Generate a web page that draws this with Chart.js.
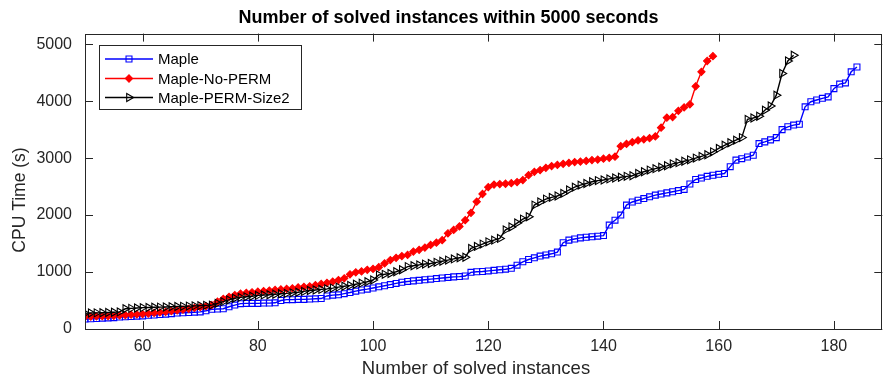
<!DOCTYPE html>
<html>
<head>
<meta charset="utf-8">
<title>Number of solved instances within 5000 seconds</title>
<script src="https://cdn.jsdelivr.net/npm/chart.js@4.4.1/dist/chart.umd.min.js"></script>
<style>
  html, body { margin: 0; padding: 0; background: #fff; }
  canvas { display: block; }
</style>
</head>
<body>
<canvas id="solvedChart" width="888" height="377"></canvas>
<script>
// instance count of the first point of every series
const firstInstance = 50;

// CPU time (s) per number of solved instances, starting at firstInstance
const maple = [
  175, 180, 185, 190, 195, 200, 210, 215, 220, 225,
  230, 240, 245, 255, 260, 270, 280, 285, 290, 295,
  300, 320, 345, 350, 355, 390, 420, 445, 450, 450,
  450, 455, 455, 460, 500, 515, 515, 520, 520, 525,
  530, 535, 580, 595, 600, 620, 640, 665, 685, 700,
  720, 740, 760, 780, 800, 820, 835, 845, 855, 865,
  875, 885, 895, 905, 915, 920, 930, 995, 1005, 1010,
  1020, 1030, 1040, 1050, 1065, 1120, 1180, 1220, 1250, 1280,
  1300, 1320, 1350, 1515, 1560, 1580, 1600, 1610, 1620, 1630,
  1640, 1825, 1910, 2000, 2175, 2230, 2260, 2290, 2320, 2350,
  2370, 2390, 2410, 2430, 2450, 2545, 2625, 2650, 2680, 2700,
  2715, 2730, 2850, 2965, 2990, 3020, 3050, 3255, 3285, 3320,
  3360, 3500, 3550, 3580, 3595, 3900, 3990, 4020, 4050, 4075,
  4220, 4300, 4320, 4515, 4600
];
const mapleNoPerm = [
  215, 218, 222, 225, 228, 232, 238, 245, 252, 258,
  263, 272, 282, 292, 302, 315, 325, 340, 355, 370,
  385, 400, 420, 480, 530, 565, 595, 620, 635, 645,
  655, 665, 675, 685, 695, 705, 715, 730, 740, 750,
  770, 790, 810, 830, 860, 890, 960, 995, 1010, 1040,
  1055, 1085, 1150, 1210, 1250, 1280, 1300, 1360, 1390, 1430,
  1475, 1515, 1560, 1680, 1740, 1800, 1910, 2040, 2235, 2370,
  2490, 2535, 2545, 2550, 2560, 2580, 2615, 2700, 2760, 2790,
  2830, 2860, 2880, 2900, 2915, 2930, 2940, 2950, 2965, 2975,
  2990, 3005, 3025, 3210, 3250, 3280, 3310, 3330, 3350, 3380,
  3535, 3710, 3720, 3830, 3890, 3945, 4260, 4515, 4705, 4790
];
const maplePermSize2 = [
  275, 280, 283, 286, 290, 295, 300, 355, 362, 368,
  375, 378, 381, 384, 387, 390, 394, 398, 402, 406,
  410, 415, 420, 450, 480, 510, 540, 555, 565, 575,
  590, 598, 602, 610, 618, 625, 635, 645, 660, 675,
  685, 695, 705, 718, 735, 750, 765, 785, 805, 830,
  860, 950, 960, 975, 1005, 1040, 1095, 1110, 1125, 1140,
  1150, 1170, 1190, 1210, 1230, 1250, 1260, 1415, 1450, 1490,
  1530, 1560, 1590, 1740, 1790, 1860, 1930, 1970, 2175, 2230,
  2280, 2310, 2335, 2380, 2440, 2490, 2525, 2555, 2585, 2605,
  2615, 2635, 2650, 2665, 2680, 2690, 2730, 2760, 2790, 2815,
  2840, 2865, 2900, 2920, 2945, 2970, 3000, 3030, 3060, 3110,
  3170, 3225, 3270, 3315, 3360, 3680, 3705, 3735, 3840, 3915,
  4105, 4485, 4705, 4805
];

const seriesNames = ["Maple", "Maple-No-PERM", "Maple-PERM-Size2"];
const xTicks = [60, 80, 100, 120, 140, 160, 180];
const yTicks = [0, 1000, 2000, 3000, 4000, 5000];

const FONT = "'Liberation Sans', Arial, Helvetica, sans-serif";
const AXIS_COLOR = "#262626";

function toPoints(values) {
  return values.map((v, i) => ({ x: firstInstance + i, y: v }));
}

const styles = [
  { color: "#0000ff", pointStyle: "rect", radius: 4.2, rotation: 0, fill: "rgba(0,0,0,0)" },
  { color: "#ff0000", pointStyle: "rectRot", radius: 3.6, rotation: 0, fill: "#ff0000" },
  { color: "#000000", pointStyle: "triangle", radius: 4.6, rotation: 90, fill: "rgba(0,0,0,0)" }
];

const seriesData = [maple, mapleNoPerm, maplePermSize2];

const datasets = seriesData.map((vals, k) => ({
  label: seriesNames[k],
  data: toPoints(vals),
  borderColor: styles[k].color,
  borderWidth: 1.4,
  pointStyle: styles[k].pointStyle,
  pointRadius: styles[k].radius,
  pointRotation: styles[k].rotation,
  pointBorderColor: styles[k].color,
  pointBackgroundColor: styles[k].fill,
  pointBorderWidth: 1.1,
  tension: 0,
  order: 3 - k
}));

// Matlab-style box with inward ticks on all four sides, plus the axis labels
const boxPlugin = {
  id: "boxPlugin",
  afterDatasetsDraw(chart) {
    const { ctx, chartArea: a, scales } = chart;
    ctx.save();
    ctx.strokeStyle = AXIS_COLOR;
    ctx.lineWidth = 1;
    ctx.beginPath();
    const tl = 8;
    scales.x.ticks.forEach(t => {
      const px = Math.round(scales.x.getPixelForValue(t.value)) + 0.5;
      ctx.moveTo(px, a.bottom); ctx.lineTo(px, a.bottom - tl);
      ctx.moveTo(px, a.top); ctx.lineTo(px, a.top + tl);
    });
    scales.y.ticks.forEach(t => {
      const py = Math.round(scales.y.getPixelForValue(t.value)) + 0.5;
      ctx.moveTo(a.left, py); ctx.lineTo(a.left + tl, py);
      ctx.moveTo(a.right, py); ctx.lineTo(a.right - tl, py);
    });
    ctx.stroke();
    ctx.strokeRect(Math.round(a.left) + 0.5, Math.round(a.top) + 0.5,
      Math.round(a.right - a.left) - 1, Math.round(a.bottom - a.top));

    ctx.fillStyle = AXIS_COLOR;
    ctx.textAlign = "center";
    ctx.textBaseline = "middle";
    ctx.font = "18.5px " + FONT;
    ctx.fillText("Number of solved instances", 476, 369);

    ctx.translate(20, 200);
    ctx.rotate(-Math.PI / 2);
    ctx.font = "17.5px " + FONT;
    ctx.fillText("CPU Time (s)", 0, 0);
    ctx.restore();
  }
};

// legend box drawn inside the plot, upper left
const legendPlugin = {
  id: "insideLegend",
  afterDraw(chart) {
    const { ctx } = chart;
    const bx = 99, by = 45, bw = 202, bh = 64;
    ctx.save();
    ctx.fillStyle = "#fff";
    ctx.fillRect(bx, by, bw, bh);
    ctx.strokeStyle = AXIS_COLOR;
    ctx.lineWidth = 1;
    ctx.strokeRect(bx + 0.5, by + 0.5, bw, bh);
    const rows = [59, 78.5, 97.5];
    ctx.font = "15px " + FONT;
    ctx.textBaseline = "middle";
    ctx.textAlign = "left";
    seriesNames.forEach((name, k) => {
      const s = styles[k];
      const y = rows[k];
      ctx.strokeStyle = s.color;
      ctx.lineWidth = 1.4;
      ctx.beginPath();
      ctx.moveTo(105, y); ctx.lineTo(153, y);
      ctx.stroke();
      ctx.fillStyle = s.fill;
      ctx.lineWidth = 1.1;
      Chart.helpers.drawPoint(ctx, {
        pointStyle: s.pointStyle, radius: s.radius, rotation: s.rotation, borderWidth: 1.1
      }, 129, y);
      ctx.fillStyle = "#000";
      ctx.fillText(name, 158, y + 1);
    });
    ctx.restore();
  }
};

new Chart(document.getElementById("solvedChart").getContext("2d"), {
  type: "line",
  data: { datasets: datasets },
  options: {
    responsive: false,
    animation: false,
    layout: { padding: { left: 10, right: 1, top: 0, bottom: 0 } },
    plugins: {
      legend: { display: false },
      tooltip: { enabled: false },
      title: {
        display: true,
        text: "Number of solved instances within 5000 seconds",
        color: "#000",
        font: { family: FONT, size: 18, weight: "bold", lineHeight: 1.2 },
        padding: { top: 7, bottom: 5 }
      }
    },
    scales: {
      x: {
        type: "linear",
        min: 50,
        max: 188.4,
        grid: { display: false, drawTicks: false },
        border: { display: false },
        afterBuildTicks: scale => { scale.ticks = xTicks.map(v => ({ value: v })); },
        afterFit: scale => { scale.height = 48; },
        ticks: {
          color: AXIS_COLOR,
          padding: 8,
          maxRotation: 0,
          font: { family: FONT, size: 16 },
          callback: v => String(v)
        },
        title: { display: false }
      },
      y: {
        min: 0,
        max: 5186,
        grid: { display: false, drawTicks: false },
        border: { display: false },
        afterBuildTicks: scale => { scale.ticks = yTicks.map(v => ({ value: v })); },
        afterFit: scale => { scale.width = 75; },
        ticks: {
          color: AXIS_COLOR,
          padding: 13,
          font: { family: FONT, size: 16 },
          callback: v => String(v)
        },
        title: { display: false }
      }
    }
  },
  plugins: [boxPlugin, legendPlugin]
});
</script>
</body>
</html>
